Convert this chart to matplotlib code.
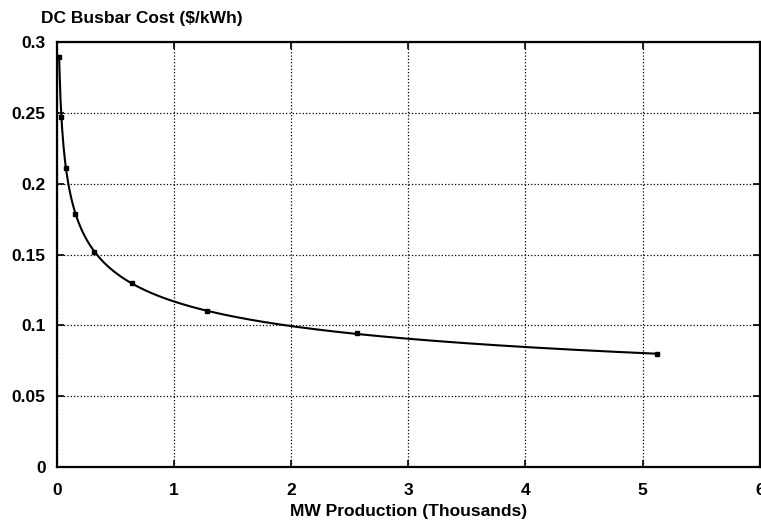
import numpy as np
import matplotlib.pyplot as plt

plt.rcParams['font.family'] = ['Liberation Sans', 'DejaVu Sans']
plt.rcParams['font.weight'] = 'bold'

# production (thousands of MW) and busbar cost ($/kWh)
mw = np.array([0.02, 0.04, 0.08, 0.16, 0.32, 0.64, 1.28, 2.56, 5.12])
cost = np.array([0.290, 0.247, 0.211, 0.179, 0.152, 0.130, 0.110, 0.0945, 0.0795])

xticks = [0, 1, 2, 3, 4, 5, 6]
yticks = [0, 0.05, 0.1, 0.15, 0.2, 0.25, 0.3]
ytick_labels = ['0', '0.05', '0.1', '0.15', '0.2', '0.25', '0.3']

# power-law fit through the points (log-log least squares)
b, log_a = np.polyfit(np.log(mw), np.log(cost), 1)
xf = np.linspace(mw[0], mw[-1], 400)
yf = np.exp(log_a) * xf ** b

fig = plt.figure(figsize=(7.61, 5.23), dpi=100)
ax = fig.add_axes([0.0745, 0.1076, 0.924, 0.8114])

ax.plot(xf, yf, 'k-', lw=1.5)
ax.plot(mw, cost, 'ks', ms=3.5)

ax.set_xlim(0, 6)
ax.set_ylim(0, 0.3)
ax.set_xticks(xticks)
ax.set_yticks(yticks)
ax.set_yticklabels(ytick_labels)
ax.grid(True, color='black', linestyle=':', linewidth=0.9)
ax.tick_params(direction='in', length=5, width=1.2, top=True, right=True,
               labelsize=12.5, colors='black')
ax.tick_params(axis='x', pad=12)
ax.tick_params(axis='y', pad=8)
for s in ax.spines.values():
    s.set_linewidth(1.6)

ax.set_xlabel('MW Production (Thousands)', fontsize=12.5, fontweight='bold', labelpad=4)
fig.text(0.054, 0.951, r'DC Busbar Cost (\$/kWh)', fontsize=12.5,
         fontweight='bold', ha='left', va='bottom')

fig.savefig('out.png', dpi=100)
